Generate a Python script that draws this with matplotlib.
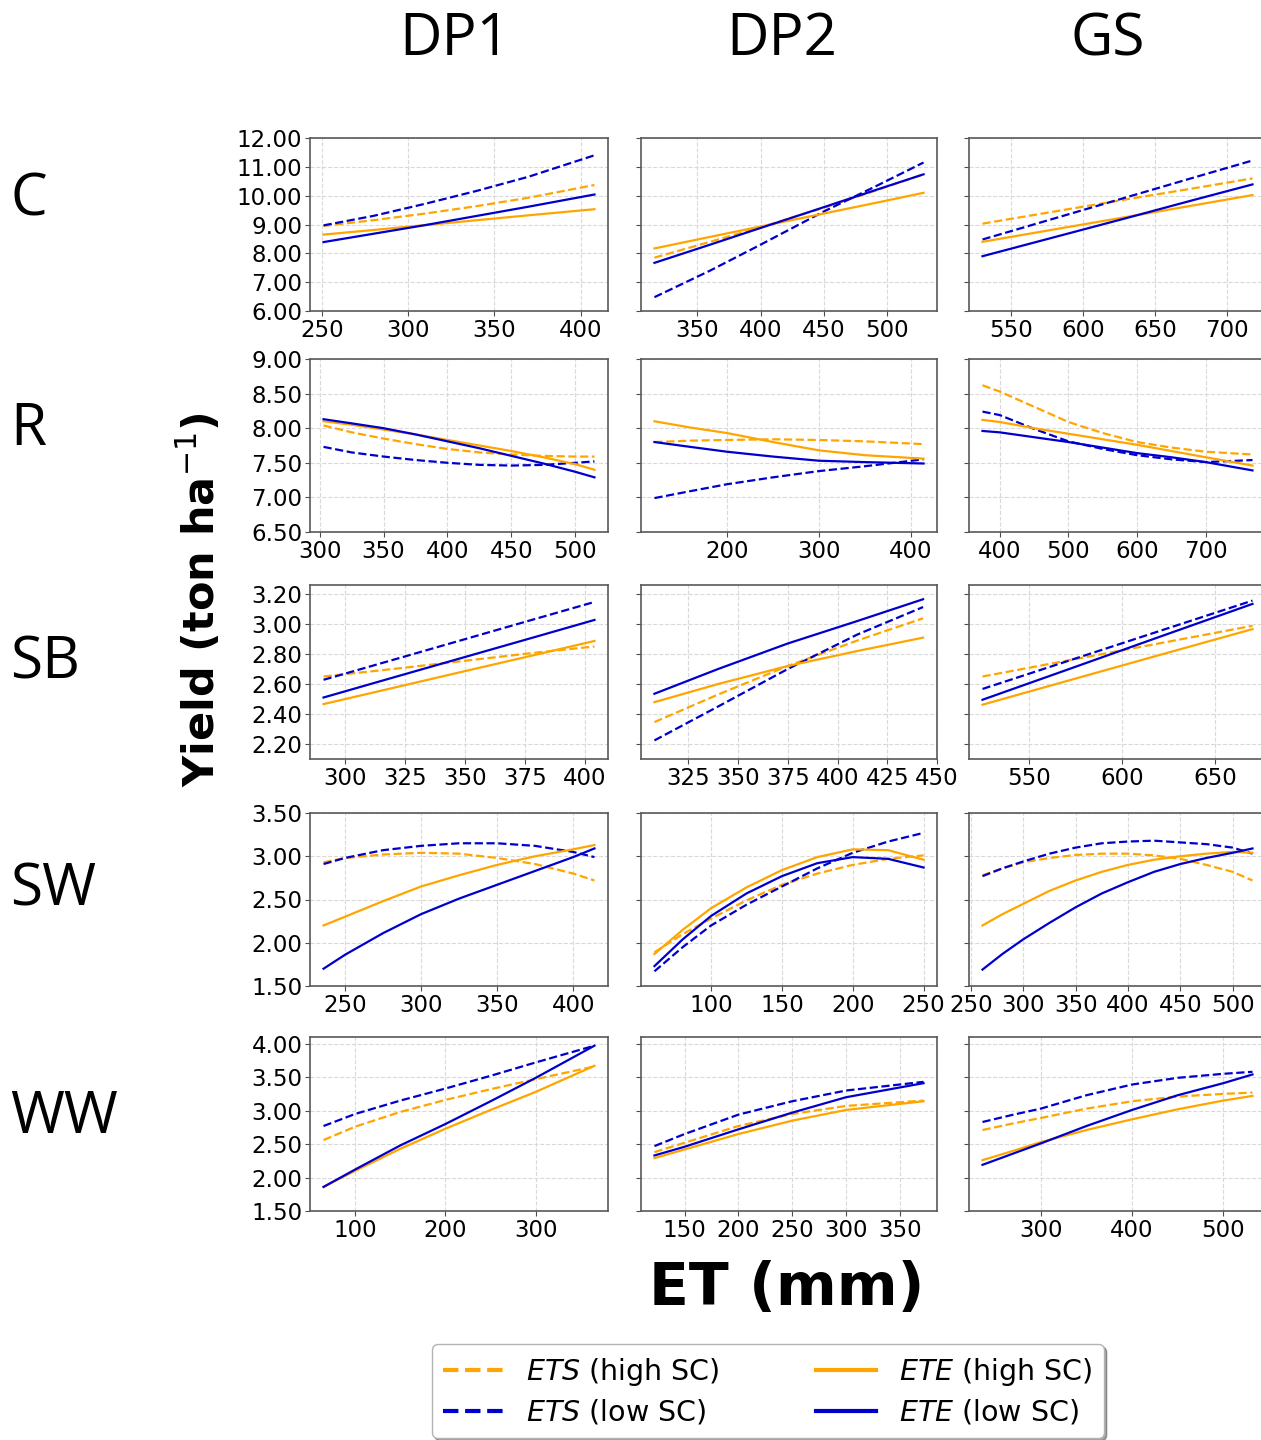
import matplotlib.pyplot as plt
from matplotlib.lines import Line2D
from matplotlib.ticker import FormatStrFormatter

crops = ["C", "R", "SB", "SW", "WW"]
periods = ["DP1", "DP2", "GS"]

# ---------------- C ----------------
c_dp1_et = [251, 280, 310, 340, 370, 408]
c_dp1_ets_hi = [8.95, 9.15, 9.38, 9.64, 9.93, 10.37]
c_dp1_ets_lo = [8.97, 9.30, 9.72, 10.17, 10.66, 11.40]
c_dp1_ete_hi = [8.65, 8.81, 8.98, 9.15, 9.32, 9.53]
c_dp1_ete_lo = [8.39, 8.68, 8.98, 9.30, 9.62, 10.04]

c_dp2_et = [316, 360, 400, 450, 490, 529]
c_dp2_ets_hi = [7.85, 8.40, 8.90, 9.58, 10.16, 10.74]
c_dp2_ets_lo = [6.48, 7.40, 8.30, 9.45, 10.30, 11.15]
c_dp2_ete_hi = [8.17, 8.57, 8.93, 9.38, 9.74, 10.10]
c_dp2_ete_lo = [7.67, 8.30, 8.88, 9.60, 10.18, 10.74]

c_gs_et = [530, 580, 630, 680, 718]
c_gs_ets_hi = [9.03, 9.45, 9.87, 10.28, 10.60]
c_gs_ets_lo = [8.48, 9.21, 9.94, 10.67, 11.22]
c_gs_ete_hi = [8.40, 8.83, 9.26, 9.69, 10.02]
c_gs_ete_lo = [7.90, 8.56, 9.22, 9.89, 10.39]

# ---------------- R ----------------
r_dp1_et = [303, 325, 350, 375, 400, 425, 450, 475, 500, 515]
r_dp1_ets_hi = [8.04, 7.94, 7.85, 7.77, 7.70, 7.65, 7.62, 7.60, 7.59, 7.59]
r_dp1_ets_lo = [7.73, 7.65, 7.59, 7.54, 7.50, 7.47, 7.46, 7.47, 7.50, 7.52]
r_dp1_ete_hi = [8.10, 8.05, 7.98, 7.91, 7.83, 7.75, 7.67, 7.58, 7.48, 7.40]
r_dp1_ete_lo = [8.13, 8.07, 8.00, 7.91, 7.81, 7.71, 7.60, 7.49, 7.37, 7.29]

r_dp2_et = [121, 160, 200, 250, 300, 350, 414]
r_dp2_ets_hi = [7.80, 7.82, 7.83, 7.84, 7.83, 7.81, 7.77]
r_dp2_ets_lo = [6.99, 7.09, 7.19, 7.29, 7.38, 7.45, 7.55]
r_dp2_ete_hi = [8.10, 8.01, 7.93, 7.80, 7.68, 7.61, 7.56]
r_dp2_ete_lo = [7.80, 7.73, 7.66, 7.59, 7.53, 7.51, 7.49]

r_gs_et = [375, 400, 450, 500, 550, 600, 650, 700, 768]
r_gs_ets_hi = [8.62, 8.53, 8.31, 8.09, 7.93, 7.80, 7.72, 7.66, 7.62]
r_gs_ets_lo = [8.24, 8.19, 7.99, 7.81, 7.70, 7.61, 7.55, 7.51, 7.54]
r_gs_ete_hi = [8.12, 8.09, 8.00, 7.92, 7.84, 7.76, 7.67, 7.58, 7.46]
r_gs_ete_lo = [7.96, 7.94, 7.87, 7.80, 7.72, 7.64, 7.58, 7.51, 7.39]

# ---------------- SB ----------------
sb_dp1_et = [291, 320, 350, 380, 404]
sb_dp1_ets_hi = [2.650, 2.700, 2.755, 2.810, 2.850]
sb_dp1_ets_lo = [2.628, 2.761, 2.899, 3.037, 3.147]
sb_dp1_ete_hi = [2.466, 2.574, 2.686, 2.797, 2.887]
sb_dp1_ete_lo = [2.510, 2.643, 2.780, 2.917, 3.027]

sb_dp2_et = [308, 340, 375, 410, 443]
sb_dp2_ets_hi = [2.346, 2.530, 2.720, 2.890, 3.038]
sb_dp2_ets_lo = [2.224, 2.450, 2.700, 2.930, 3.113]
sb_dp2_ete_hi = [2.479, 2.600, 2.720, 2.820, 2.909]
sb_dp2_ete_lo = [2.535, 2.700, 2.870, 3.020, 3.165]

sb_gs_et = [525, 570, 620, 670]
sb_gs_ets_hi = [2.650, 2.755, 2.871, 2.988]
sb_gs_ets_lo = [2.567, 2.750, 2.953, 3.156]
sb_gs_ete_hi = [2.462, 2.619, 2.793, 2.966]
sb_gs_ete_lo = [2.495, 2.693, 2.914, 3.134]

# ---------------- SW ----------------
sw_dp1_et = [236, 250, 275, 300, 325, 350, 375, 400, 414]
sw_dp1_ets_hi = [2.93, 2.98, 3.02, 3.04, 3.03, 2.98, 2.91, 2.80, 2.72]
sw_dp1_ets_lo = [2.91, 2.98, 3.07, 3.12, 3.15, 3.15, 3.12, 3.05, 2.99]
sw_dp1_ete_hi = [2.20, 2.30, 2.48, 2.65, 2.78, 2.90, 3.00, 3.08, 3.13]
sw_dp1_ete_lo = [1.70, 1.86, 2.11, 2.33, 2.51, 2.67, 2.83, 2.99, 3.09]

sw_dp2_et = [60, 80, 100, 125, 150, 175, 200, 225, 250]
sw_dp2_ets_hi = [1.89, 2.10, 2.28, 2.49, 2.67, 2.80, 2.90, 2.97, 3.01]
sw_dp2_ets_lo = [1.67, 1.95, 2.20, 2.44, 2.65, 2.86, 3.04, 3.17, 3.27]
sw_dp2_ete_hi = [1.87, 2.15, 2.40, 2.64, 2.84, 2.99, 3.08, 3.07, 2.96]
sw_dp2_ete_lo = [1.73, 2.04, 2.31, 2.57, 2.77, 2.92, 2.99, 2.97, 2.87]

sw_gs_et = [261, 280, 300, 325, 350, 375, 400, 425, 450, 475, 500, 519]
sw_gs_ets_hi = [2.78, 2.86, 2.93, 2.98, 3.015, 3.03, 3.03, 3.01, 2.97, 2.90, 2.82, 2.72]
sw_gs_ets_lo = [2.77, 2.86, 2.94, 3.03, 3.10, 3.15, 3.17, 3.18, 3.16, 3.14, 3.10, 3.03]
sw_gs_ete_hi = [2.20, 2.33, 2.45, 2.60, 2.72, 2.82, 2.90, 2.96, 3.00, 3.03, 3.05, 3.04]
sw_gs_ete_lo = [1.69, 1.87, 2.04, 2.23, 2.41, 2.57, 2.70, 2.82, 2.91, 2.98, 3.04, 3.09]

# ---------------- WW ----------------
ww_dp1_et = [65, 100, 150, 200, 250, 300, 365]
ww_dp1_ets_hi = [2.56, 2.76, 2.98, 3.16, 3.32, 3.47, 3.66]
ww_dp1_ets_lo = [2.77, 2.95, 3.15, 3.33, 3.52, 3.72, 3.97]
ww_dp1_ete_hi = [1.86, 2.10, 2.43, 2.73, 3.01, 3.28, 3.67]
ww_dp1_ete_lo = [1.86, 2.12, 2.48, 2.80, 3.14, 3.49, 3.97]

ww_dp2_et = [122, 150, 200, 250, 300, 372]
ww_dp2_ets_hi = [2.38, 2.52, 2.77, 2.95, 3.07, 3.15]
ww_dp2_ets_lo = [2.47, 2.65, 2.94, 3.14, 3.30, 3.43]
ww_dp2_ete_hi = [2.29, 2.42, 2.65, 2.85, 3.01, 3.14]
ww_dp2_ete_lo = [2.33, 2.46, 2.72, 2.97, 3.20, 3.41]

ww_gs_et = [236, 270, 300, 350, 400, 450, 500, 532]
ww_gs_ets_hi = [2.71, 2.81, 2.89, 3.03, 3.14, 3.21, 3.25, 3.27]
ww_gs_ets_lo = [2.83, 2.94, 3.03, 3.23, 3.39, 3.49, 3.55, 3.58]
ww_gs_ete_hi = [2.26, 2.40, 2.53, 2.71, 2.87, 3.02, 3.15, 3.22]
ww_gs_ete_lo = [2.19, 2.36, 2.51, 2.77, 3.01, 3.23, 3.41, 3.54]

# axis ticks
y_lims = [(6.0, 12.0), (6.5, 9.0), (2.10, 3.26), (1.5, 3.5), (1.5, 4.1)]
y_ticks = [
    [6, 7, 8, 9, 10, 11, 12],
    [6.5, 7.0, 7.5, 8.0, 8.5, 9.0],
    [2.2, 2.4, 2.6, 2.8, 3.0, 3.2],
    [1.5, 2.0, 2.5, 3.0, 3.5],
    [1.5, 2.0, 2.5, 3.0, 3.5, 4.0],
]
x_ticks = [
    [[250, 300, 350, 400], [350, 400, 450, 500], [550, 600, 650, 700]],
    [[300, 350, 400, 450, 500], [200, 300, 400], [400, 500, 600, 700]],
    [[300, 325, 350, 375, 400], [325, 350, 375, 400, 425, 450], [550, 600, 650]],
    [[250, 300, 350, 400], [100, 150, 200, 250], [250, 300, 350, 400, 450, 500]],
    [[100, 200, 300], [150, 200, 250, 300, 350], [300, 400, 500]],
]

panels = [
    [(c_dp1_et, c_dp1_ets_hi, c_dp1_ets_lo, c_dp1_ete_hi, c_dp1_ete_lo),
     (c_dp2_et, c_dp2_ets_hi, c_dp2_ets_lo, c_dp2_ete_hi, c_dp2_ete_lo),
     (c_gs_et, c_gs_ets_hi, c_gs_ets_lo, c_gs_ete_hi, c_gs_ete_lo)],
    [(r_dp1_et, r_dp1_ets_hi, r_dp1_ets_lo, r_dp1_ete_hi, r_dp1_ete_lo),
     (r_dp2_et, r_dp2_ets_hi, r_dp2_ets_lo, r_dp2_ete_hi, r_dp2_ete_lo),
     (r_gs_et, r_gs_ets_hi, r_gs_ets_lo, r_gs_ete_hi, r_gs_ete_lo)],
    [(sb_dp1_et, sb_dp1_ets_hi, sb_dp1_ets_lo, sb_dp1_ete_hi, sb_dp1_ete_lo),
     (sb_dp2_et, sb_dp2_ets_hi, sb_dp2_ets_lo, sb_dp2_ete_hi, sb_dp2_ete_lo),
     (sb_gs_et, sb_gs_ets_hi, sb_gs_ets_lo, sb_gs_ete_hi, sb_gs_ete_lo)],
    [(sw_dp1_et, sw_dp1_ets_hi, sw_dp1_ets_lo, sw_dp1_ete_hi, sw_dp1_ete_lo),
     (sw_dp2_et, sw_dp2_ets_hi, sw_dp2_ets_lo, sw_dp2_ete_hi, sw_dp2_ete_lo),
     (sw_gs_et, sw_gs_ets_hi, sw_gs_ets_lo, sw_gs_ete_hi, sw_gs_ete_lo)],
    [(ww_dp1_et, ww_dp1_ets_hi, ww_dp1_ets_lo, ww_dp1_ete_hi, ww_dp1_ete_lo),
     (ww_dp2_et, ww_dp2_ets_hi, ww_dp2_ets_lo, ww_dp2_ete_hi, ww_dp2_ete_lo),
     (ww_gs_et, ww_gs_ets_hi, ww_gs_ets_lo, ww_gs_ete_hi, ww_gs_ete_lo)],
]

ORANGE = "orange"
BLUE = "mediumblue"
W, H = 1261, 1440

# layout in pixels (left, width) per column, (top, bottom) per row
col_px = [(310, 298), (641, 296), (969, 297)]
row_px = [(138, 311), (359, 532), (585, 759), (813, 986), (1037, 1211)]

fig = plt.figure(figsize=(W / 100, H / 100), dpi=100)

for i in range(5):
    top, bot = row_px[i]
    for j in range(3):
        left, width = col_px[j]
        ax = fig.add_axes([left / W, 1 - bot / H, width / W, (bot - top) / H])
        et, ets_hi, ets_lo, ete_hi, ete_lo = panels[i][j]
        ax.plot(et, ets_hi, color=ORANGE, ls="--", lw=1.6)
        ax.plot(et, ets_lo, color=BLUE, ls="--", lw=1.6)
        ax.plot(et, ete_hi, color=ORANGE, ls="-", lw=1.6)
        ax.plot(et, ete_lo, color=BLUE, ls="-", lw=1.6)

        ax.set_ylim(*y_lims[i])
        ax.set_yticks(y_ticks[i])
        ax.set_xticks(x_ticks[i][j])
        ax.yaxis.set_major_formatter(FormatStrFormatter("%.2f"))
        ax.tick_params(labelsize=16.5, color="0.3", pad=2)
        if j > 0:
            ax.tick_params(labelleft=False)
        ax.grid(True, linestyle="--", color="0.85", linewidth=0.8)
        for sp in ax.spines.values():
            sp.set_color("0.35")
            sp.set_linewidth(1.2)

# column titles
for j, x in enumerate([455, 782, 1108]):
    fig.text(x / W, 1 - 40 / H, periods[j], fontsize=42, family="Open Sans",
             ha="center", va="center")

# row labels
for i, y in enumerate([200, 430, 663, 890, 1118]):
    fig.text(10 / W, 1 - y / H, crops[i], fontsize=42, family="Open Sans",
             ha="left", va="center")

fig.text(200 / W, 1 - 600 / H, r"Yield (ton ha$^{-1}$)", rotation=90,
         fontsize=31, fontweight="bold", ha="center", va="center")
fig.text(787 / W, 1 - 1288 / H, "ET (mm)", fontsize=42, fontweight="bold",
         ha="center", va="center")

handles = [
    Line2D([], [], color=ORANGE, ls="--", lw=3),
    Line2D([], [], color=BLUE, ls="--", lw=3),
    Line2D([], [], color=ORANGE, ls="-", lw=3),
    Line2D([], [], color=BLUE, ls="-", lw=3),
]
labels = [r"$ETS$ (high SC)", r"$ETS$ (low SC)", r"$ETE$ (high SC)", r"$ETE$ (low SC)"]
fig.legend(handles, labels, loc="center", bbox_to_anchor=(768 / W, 1 - 1391 / H),
           ncol=2, fontsize=20.5, shadow=True, handlelength=2.1, handletextpad=0.8,
           columnspacing=3.4, borderpad=0.4, labelspacing=0.35, edgecolor="0.7")

fig.savefig("out.png", dpi=100)
